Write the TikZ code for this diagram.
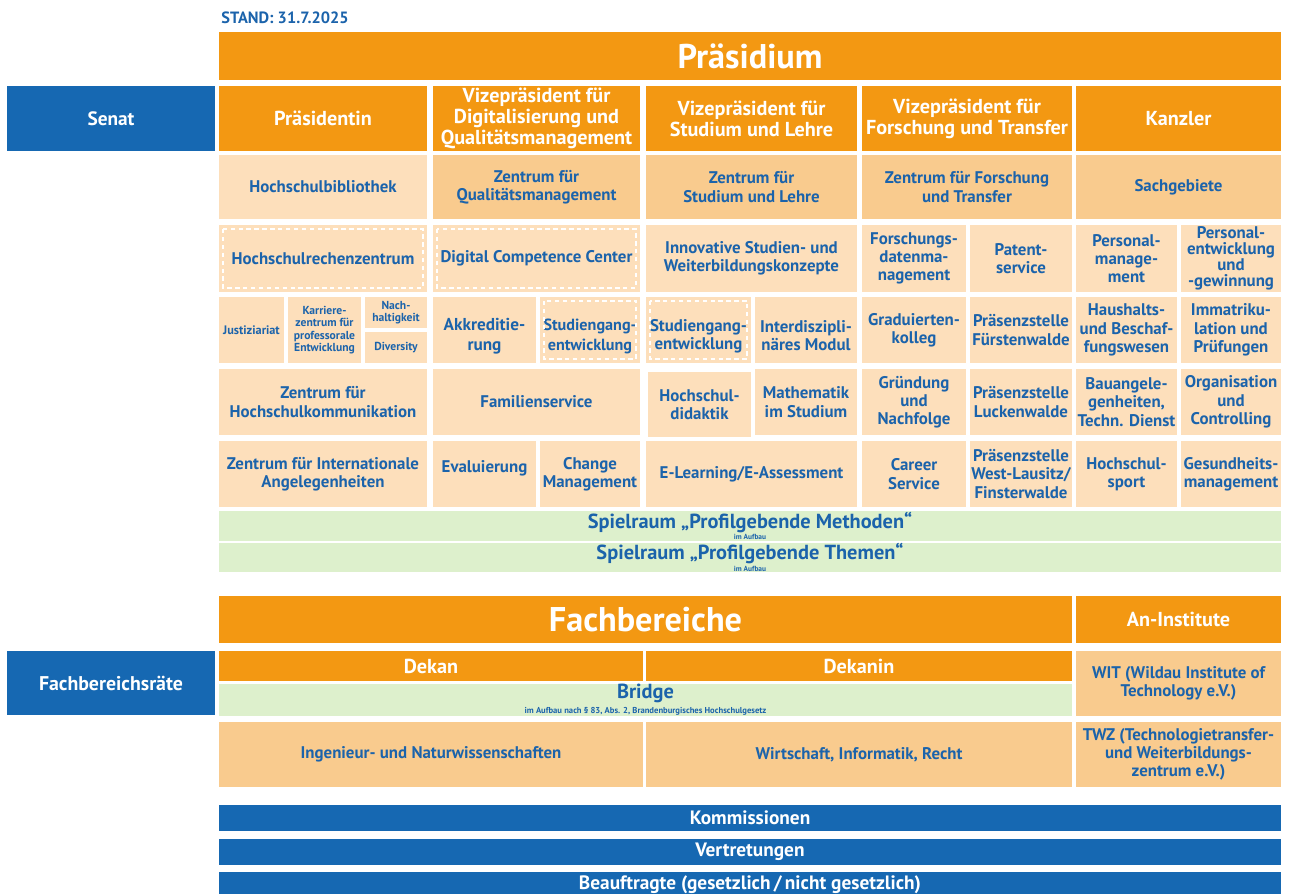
\documentclass[tikz,border=0pt]{standalone}
\usepackage{fontspec}
\setmainfont{PT Sans}
\usepackage{tikz}
\usetikzlibrary{positioning, calc}

\definecolor{uniorange}{RGB}{243,152,18}
\definecolor{peachlite}{RGB}{253,223,187}
\definecolor{peachdark}{RGB}{249,203,142}
\definecolor{greenlite}{RGB}{221,240,204}
\definecolor{uniblue}{RGB}{22,104,178}
\definecolor{textblue}{RGB}{27,99,171}

\begin{document}
\begin{tikzpicture}[
  x=0.02cm, y=-0.02cm,
  cell/.style={anchor=north west, inner sep=0.5pt, outer sep=0pt, align=center},
  wh/.style 2 args={minimum width=#1*0.02cm, minimum height=#2*0.02cm},
  head/.style={cell, fill=uniorange, text=white, font=\fontsize{11.5}{12}\selectfont\bfseries},
  unit/.style={cell, fill=peachlite, text=textblue, font=\fontsize{9.6}{10.4}\selectfont\bfseries},
  centre/.style={cell, fill=peachdark, text=textblue, font=\fontsize{9.6}{10.4}\selectfont\bfseries},
  space/.style={cell, inner sep=0pt, fill=greenlite, text=textblue, font=\fontsize{11.6}{12}\selectfont\bfseries},
  board/.style={cell, fill=uniblue, text=white, font=\fontsize{11}{12}\selectfont\bfseries},
  title/.style={font=\fontsize{19.5}{21}\selectfont\bfseries},
  tiny/.style={font=\fontsize{6.6}{7}\selectfont\bfseries},
  big/.style={font=\fontsize{9.8}{11.2}\selectfont\bfseries},
  low/.style={text height=#1},
  indash/.style={draw=white, line width=0.7pt, dash pattern=on 2.5pt off 2pt}
]
\useasboundingbox (0,0) rectangle (1294,893);

% Date line
\node[anchor=west, inner sep=0pt, text=textblue, font=\fontsize{9.3}{10}\selectfont\bfseries] (stand) at (221,18) {STAND: 31.7.2025};

% Praesidium and senate
\node[head, title, wh={1062}{48}] (praesidium) at (219,32) {Präsidium};
\node[board, wh={208}{65}] (senat) at (7,86) {Senat};

% Leadership row
\node[head, wh={208}{65}] (pres) at (219,86) {Präsidentin};
\node[head, wh={207}{65}] (vpdq) at (433,86) {Vizepräsident für\\Digitalisierung und\\Qualitätsmanagement};
\node[head, wh={211}{65}] (vpsl) at (646,86) {Vizepräsident für\\Studium und Lehre};
\node[head, wh={210}{65}] (vpft) at (862,86) {Vizepräsident für\\Forschung und Transfer};
\node[head, wh={205}{65}] (kanz) at (1076,86) {Kanzler};

% Centres
\node[unit, wh={208}{64}] (bib) at (219,155) {Hochschulbibliothek};
\node[centre, wh={207}{64}] (zqm) at (433,155) {Zentrum für\\Qualitätsmanagement};
\node[centre, wh={211}{64}] (zsl) at (646,155) {Zentrum für\\Studium und Lehre};
\node[centre, wh={210}{64}] (zft) at (862,155) {Zentrum für Forschung\\und Transfer};
\node[centre, wh={205}{64}] (sach) at (1076,155) {Sachgebiete};

% Third row
\node[unit, wh={208}{67}] (hrz) at (219,225) {Hochschulrechenzentrum};
\node[unit, wh={207}{67}] (dcc) at (433,225) {Digital Competence Center};
\node[unit, wh={211}{67}] (isw) at (646,225) {Innovative Studien- und\\Weiterbildungskonzepte};
\node[unit, wh={104}{67}] (fdm) at (862,225) {Forschungs-\\datenma-\\nagement};
\node[unit, wh={102}{67}] (pat) at (970,225) {Patent-\\service};
\node[unit, wh={101}{67}] (pm) at (1076,225) {Personal-\\manage-\\ment};
\node[unit, wh={100}{67}, font=\fontsize{9.6}{9.1}\selectfont\bfseries] (pe) at (1181,225) {Personal-\\entwicklung\\und\\-gewinnung};

% Fourth row
\node[unit, tiny, wh={65}{66}, font=\fontsize{7}{7.5}\selectfont\bfseries] (just) at (219,297) {Justiziariat};
\node[unit, tiny, wh={73}{66}] (karr) at (288,297) {Karriere-\\zentrum für\\professorale\\Entwicklung};
\node[unit, tiny, wh={62}{31}] (nach) at (365,297) {Nach-\\haltigkeit};
\node[unit, tiny, wh={62}{31}] (div) at (365,332) {Diversity};
\node[unit, big, low=25pt, wh={103}{66}] (akk) at (433,297) {Akkreditie-\\rung};
\node[unit, big, low=25pt, wh={100}{66}, font=\fontsize{9.2}{11.2}\selectfont\bfseries] (sge) at (540,297) {Studiengang-\\entwicklung};
\node[unit, low=24pt, wh={105}{66}] (sgs) at (646,297) {Studiengang-\\entwicklung};
\node[unit, low=24pt, wh={102}{66}] (idm) at (755,297) {Interdiszipli-\\näres Modul};
\node[unit, wh={104}{66}] (grad) at (862,297) {Graduierten-\\kolleg};
\node[unit, wh={102}{66}] (pfw) at (970,297) {Präsenzstelle\\Fürstenwalde};
\node[unit, wh={101}{66}] (hhb) at (1076,297) {Haushalts-\\und Beschaf-\\fungswesen};
\node[unit, wh={100}{66}] (imm) at (1181,297) {Immatriku-\\lation und\\Prüfungen};

% Fifth row
\node[unit, wh={208}{66}] (zhk) at (219,369) {Zentrum für\\Hochschulkommunikation};
\node[unit, wh={207}{66}] (fam) at (433,369) {Familienservice};
\node[unit, wh={103}{65}] (hdd) at (648,372) {Hochschul-\\didaktik};
\node[unit, wh={102}{66}] (mis) at (755,369) {Mathematik\\im Studium};
\node[unit, wh={104}{66}] (gun) at (862,369) {Gründung\\und\\Nachfolge};
\node[unit, wh={102}{66}] (plw) at (970,369) {Präsenzstelle\\Luckenwalde};
\node[unit, wh={101}{66}] (bau) at (1076,369) {Bauangele-\\genheiten,\\Techn. Dienst};
\node[unit, wh={100}{66}] (org) at (1181,369) {Organisation\\und\\Controlling};

% Sixth row
\node[unit, wh={208}{66}] (zia) at (219,441) {Zentrum für Internationale\\Angelegenheiten};
\node[unit, wh={103}{66}] (eva) at (433,441) {Evaluierung\\[-2pt]\mbox{}};
\node[unit, wh={100}{66}] (chm) at (540,441) {Change\\Management};
\node[unit, wh={211}{66}] (elea) at (646,441) {E-Learning/E-Assessment};
\node[unit, wh={104}{66}] (car) at (862,441) {Career\\Service};
\node[unit, wh={102}{66}] (pwl) at (970,441) {Präsenzstelle\\West-Lausitz/\\Finsterwalde};
\node[unit, wh={101}{66}] (hsp) at (1076,441) {Hochschul-\\sport};
\node[unit, wh={100}{66}] (gsm) at (1181,441) {Gesundheits-\\management};

% dashed frames inside some units
\foreach \n in {hrz, dcc, sge, sgs}
  \draw[indash] ([shift={(4,4)}]\n.north west) rectangle ([shift={(-4,-4)}]\n.south east);

% Spielraeume
\node[space, wh={1062}{30}] (spm) at (219,511) {Spielraum „Profilgebende Methoden“\\[-5.4pt]{\fontsize{4.2}{4.5}\selectfont im Aufbau}};
\node[space, wh={1062}{29}] (spt) at (219,543) {Spielraum „Profilgebende Themen“\\[-5.4pt]{\fontsize{4.2}{4.5}\selectfont im Aufbau}};

% Faculties
\node[head, title, wh={853}{47}] (fb) at (219,596) {Fachbereiche};
\node[head, wh={205}{47}] (ani) at (1076,596) {An-Institute};
\node[board, wh={208}{64}, font=\fontsize{11.3}{12}\selectfont\bfseries] (fbr) at (7,651) {Fachbereichsräte};
\node[head, wh={424}{30}] (dekan) at (219,651) {Dekan};
\node[head, wh={426}{30}] (dekanin) at (646,651) {Dekanin};
\node[space, wh={853}{32}] (bridge) at (219,684) {Bridge\\[-3.6pt]{\fontsize{4.9}{5.2}\selectfont im Aufbau nach § 83, Abs. 2, Brandenburgisches Hochschulgesetz}};
\node[centre, wh={205}{65}] (wit) at (1076,651) {WIT (Wildau Institute of\\Technology e.V.)};
\node[centre, wh={424}{65}] (ing) at (219,722) {Ingenieur- und Naturwissenschaften};
\node[centre, wh={426}{65}] (wir) at (646,722) {Wirtschaft, Informatik, Recht};
\node[centre, wh={205}{65}] (twz) at (1076,722) {TWZ (Technologietransfer-\\und Weiterbildungs-\\zentrum e.V.)};

% Committees
\node[board, wh={1062}{26}] (kom) at (219,805) {Kommissionen};
\node[board, wh={1062}{26}] (ver) at (219,839) {Vertretungen};
\node[board, wh={1062}{26}] (bea) at (219,872) {Beauftragte (gesetzlich\,/\,nicht gesetzlich)};

\end{tikzpicture}
\end{document}
